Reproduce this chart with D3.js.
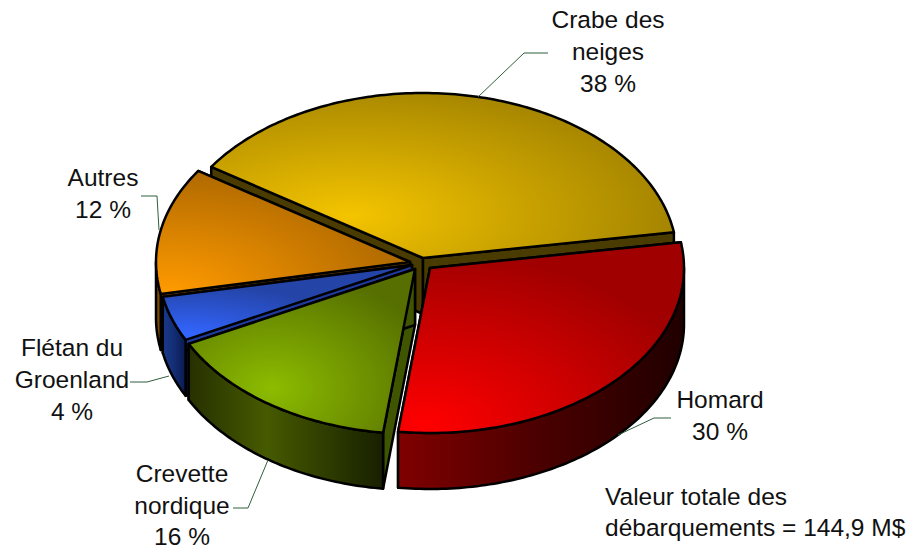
<!DOCTYPE html>
<html>
<head>
<meta charset="utf-8">
<script src="https://cdn.jsdelivr.net/npm/d3@7"></script>
<style>
  html, body { margin: 0; padding: 0; background: #fff; }
  text { font-family: "Liberation Sans", Arial, sans-serif; font-size: 24.5px; fill: #111; }
</style>
</head>
<body>
<svg id="chart" width="909" height="548"></svg>
<script>
// values (the printed labels are rounded)
const categories = ['Crabe des neiges', 'Homard', 'Crevette nordique', 'Flétan du Groenland', 'Autres']
const shares = [38.2, 29.5, 15.5, 4.4, 12.4]
const percentLabels = ['38 %', '30 %', '16 %', '4 %', '12 %']
const totalNote = ['Valeur totale des', 'débarquements = 144,9 M$']

const rx = 254, ry = 165, depth = 56
const rad = Math.PI / 180

// look of each slice, same order as categories
// glow is the bright spot of the top face, spread its radii
const slices = [
  {apex: [423, 258], hi: '#f4c400', lo: '#a68600', glow: [350, 215], spread: [320, 130], rim: ['#3a2f00', '#3a2f00', '#3a2f00'], wall: '#4a3c00'},
  {apex: [430, 268], hi: '#ff0000', lo: '#a00000', glow: [425, 425], spread: [290, 175], rim: ['#800000', '#4a0000', '#200000'], wall: '#600000'},
  {apex: [415, 269], hi: '#8cbc00', lo: '#566f00', glow: [272, 388], spread: [170, 120], rim: ['#263000', '#465a00', '#182000'], wall: '#3f5500'},
  {apex: [412, 265], hi: '#3366ff', lo: '#2444a8', glow: [185, 335], spread: [170, 50], rim: ['#1a3a8a', '#15307a', '#0a1a50'], wall: '#1f3a9c'},
  {apex: [410, 262], hi: '#ff9a00', lo: '#ad6800', glow: [170, 292], spread: [250, 125], rim: ['#7a4a00', '#7a4a00', '#7a4a00'], wall: '#5a3500'}
]

// draw order, back of the pie first
const drawOrder = [0, 4, 3, 2, 1]

const calloutText = [
  {x: 608, y: [28, 60, 92], lines: ['Crabe des', 'neiges', percentLabels[0]]},
  {x: 720, y: [408, 440], lines: ['Homard', percentLabels[1]]},
  {x: 182, y: [482, 514, 545], lines: ['Crevette', 'nordique', percentLabels[2]]},
  {x: 72, y: [356, 388, 420], lines: ['Flétan du', 'Groenland', percentLabels[3]]},
  {x: 103, y: [186, 218], lines: ['Autres', percentLabels[4]]}
]
const leaders = [
  [[548, 53], [524, 53], [478, 97]],
  [[671, 418], [654, 418], [618, 435]],
  [[233, 508], [248, 508], [268, 460]],
  [[130, 382], [147, 382], [169, 376]],
  [[141, 196], [157, 196], [159, 230]]
]

const svg = d3.select('#chart')
const defs = svg.append('defs')
const line = d3.line()

const pie = d3.pie().sort(null)
  .startAngle(-56.5 * rad)
  .endAngle((360 - 56.5) * rad)
const arcs = pie(shares)

function rimPoint (s, a, drop) {
  return [s.apex[0] + rx * Math.sin(a), s.apex[1] - ry * Math.cos(a) + drop]
}

function arcPoints (s, a0, a1, drop) {
  const n = Math.max(2, Math.ceil((a1 - a0) / rad))
  return d3.range(n + 1).map(i => rimPoint(s, a0 + (a1 - a0) * i / n, drop))
}

drawOrder.forEach(i => {
  const s = slices[i]
  const a0 = arcs[i].startAngle
  const a1 = arcs[i].endAngle

  const top = defs.append('radialGradient')
    .attr('id', 'top' + i)
    .attr('gradientUnits', 'userSpaceOnUse')
    .attr('cx', 0).attr('cy', 0).attr('r', 1)
    .attr('gradientTransform', 'translate(' + s.glow + ') scale(' + s.spread + ')')
  top.append('stop').attr('offset', 0).attr('stop-color', s.hi)
  top.append('stop').attr('offset', 1).attr('stop-color', s.lo)

  const g = svg.append('g')
    .attr('stroke', '#000')
    .attr('stroke-width', 2.5)
    .attr('stroke-linejoin', 'round')

  // cut faces
  ;[a0, a1].forEach(a => {
    const p = rimPoint(s, a, 0)
    const q = rimPoint(s, a, depth)
    g.append('path')
      .attr('d', line([s.apex, p, q, [s.apex[0], s.apex[1] + depth]]) + 'Z')
      .attr('fill', s.wall)
  })

  // outer wall, only the part that faces the viewer
  const from = Math.max(a0, 90 * rad)
  const to = Math.min(a1, 270 * rad)
  if (to > from) {
    const xs = arcPoints(s, from, to, 0).map(d => d[0])
    const side = defs.append('linearGradient')
      .attr('id', 'rim' + i)
      .attr('gradientUnits', 'userSpaceOnUse')
      .attr('x1', d3.min(xs)).attr('x2', d3.max(xs))
      .attr('y1', 0).attr('y2', 0)
    side.append('stop').attr('offset', 0).attr('stop-color', s.rim[0])
    side.append('stop').attr('offset', i === 1 ? 0.5 : 0.4).attr('stop-color', s.rim[1])
    side.append('stop').attr('offset', 1).attr('stop-color', s.rim[2])
    const pts = arcPoints(s, from, to, 0).concat(arcPoints(s, from, to, depth).reverse())
    g.append('path')
      .attr('d', line(pts) + 'Z')
      .attr('fill', 'url(#rim' + i + ')')
  }

  // top face
  g.append('path')
    .attr('d', line([s.apex].concat(arcPoints(s, a0, a1, 0))) + 'Z')
    .attr('fill', 'url(#top' + i + ')')
})

svg.append('g').selectAll('path')
  .data(leaders)
  .enter().append('path')
    .attr('d', d => line(d))
    .attr('fill', 'none')
    .attr('stroke', '#2f5f3f')
    .attr('stroke-width', 1)

calloutText.forEach(c => {
  c.lines.forEach((t, k) => {
    svg.append('text')
      .attr('x', c.x)
      .attr('y', c.y[k])
      .attr('text-anchor', 'middle')
      .text(t)
  })
})

totalNote.forEach((t, k) => {
  svg.append('text')
    .attr('x', 605)
    .attr('y', 505 + k * 31)
    .text(t)
})
</script>
</body>
</html>
